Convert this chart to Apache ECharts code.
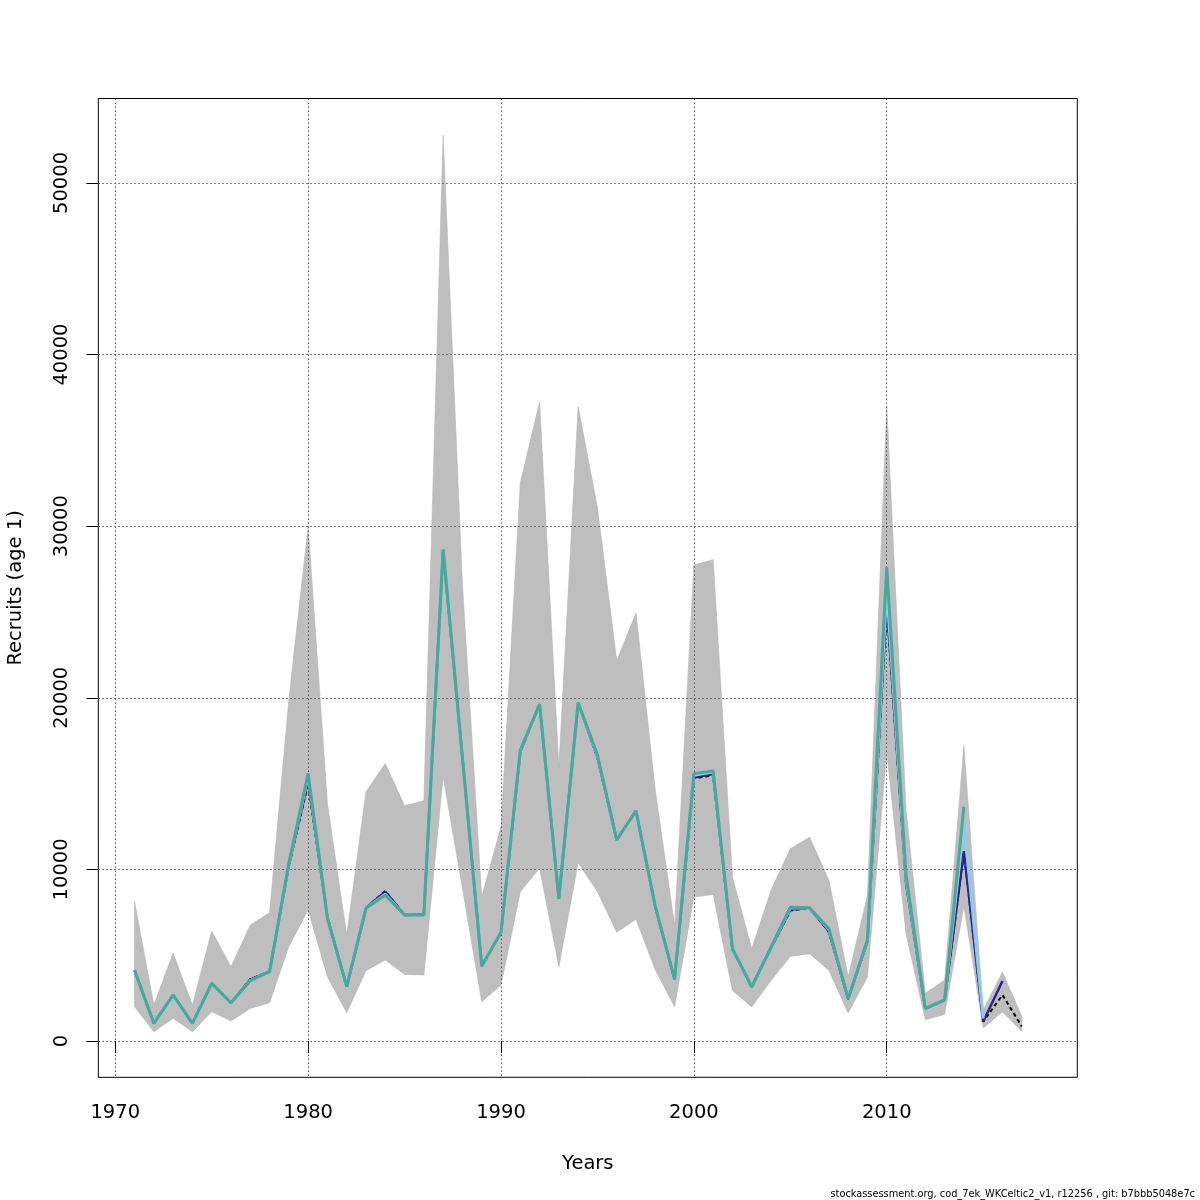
<!DOCTYPE html>
<html>
<head>
<meta charset="utf-8">
<script src="https://cdn.jsdelivr.net/npm/echarts@6/dist/echarts.min.js"></script>
<style>
html,body{margin:0;padding:0;background:#fff;}
#chart{width:1200px;height:1200px;}
</style>
</head>
<body>
<div id="chart"></div>
<script>
const years = [1971,1972,1973,1974,1975,1976,1977,1978,1979,1980,1981,1982,1983,1984,1985,1986,1987,1988,1989,1990,1991,1992,1993,1994,1995,1996,1997,1998,1999,2000,2001,2002,2003,2004,2005,2006,2007,2008,2009,2010,2011,2012,2013,2014,2015,2016,2017];

// base run (black dashed), 1971-2017
const recruitsBase = [4100,1030,2680,1030,3360,2230,3600,4050,10200,15000,7200,3170,7750,8740,7340,7380,28500,16500,4370,6330,16850,19600,8300,19700,16500,11750,13400,7830,3600,15300,15480,5350,3200,5400,7600,7750,6350,2450,5770,25300,9200,1880,2380,11000,1130,2680,850];
// upper / lower confidence bounds of base run
const upperCI = [8120,2100,5110,2100,6410,4330,6760,7480,19900,30000,13840,6170,14520,16170,13710,14000,52780,26600,8410,12480,32520,37240,15980,36970,31070,22160,24940,14600,6740,27730,28050,9550,5380,8780,11200,11880,9360,3730,8490,37000,13470,2780,3550,17200,1800,4020,1440];
const lowerCI = [2000,540,1320,540,1710,1170,1900,2230,5500,7630,3750,1650,4100,4720,3880,3850,15400,8900,2290,3260,8700,10060,4330,10390,8700,6330,7090,4140,2000,8390,8540,2950,1980,3530,4930,5090,4120,1630,3730,16840,6250,1240,1550,7850,760,1700,560];

// retrospective peels
const peel1 = [4100,1030,2680,1030,3360,2230,3580,4050,10250,15200,7200,3170,7750,8700,7340,7370,28550,16500,4370,6330,16850,19620,8300,19700,16550,11720,13400,7830,3600,15350,15550,5360,3180,5420,7650,7760,6400,2460,5800,25500,9250,1890,2380,11060,1120,3500];
const peel2 = [4120,1030,2680,1030,3360,2230,3520,4040,10300,15450,7160,3170,7740,8550,7340,7350,28600,16500,4370,6330,16900,19630,8310,19710,16600,11700,13410,7830,3590,15480,15680,5380,3150,5460,7750,7770,6500,2470,5860,26300,9450,1900,2380,12700,1300];
const peel3 = [4140,1030,2680,1030,3360,2230,3510,4040,10350,15590,7150,3170,7730,8500,7340,7340,28650,16510,4370,6330,16950,19630,8310,19710,16660,11710,13420,7830,3590,15580,15730,5380,3140,5470,7800,7770,6540,2470,5900,27600,9670,1900,2390,13650];

const xTicks = [1970,1980,1990,2000,2010];
const yTicks = [0,10000,20000,30000,40000,50000];

function pairs(vals){ return vals.map((v,i)=>[years[i], v]); }

const chart = echarts.init(document.getElementById('chart'), null, {renderer:'canvas'});
const FONT = 'DejaVu Sans';
const option = {
  animation: false,
  backgroundColor: '#ffffff',
  textStyle: {fontFamily: FONT},
  grid: {left: 98.3, top: 98.5, right: 122.7, bottom: 122.7, show: true, borderColor: '#000', borderWidth: 1,
         backgroundColor: 'transparent', containLabel: false, outerBoundsMode: 'none'},
  xAxis: {
    type: 'value', min: 1969.12, max: 2019.88, z: 3,
    name: 'Years', nameLocation: 'middle', nameGap: 77,
    nameTextStyle: {fontSize: 19.5, color: '#000', fontFamily: FONT},
    axisLine: {show: false},
    axisTick: {show: true, length: 12, inside: false, customValues: xTicks, lineStyle: {color: '#000', width: 1}},
    axisLabel: {customValues: xTicks, fontSize: 19.5, color: '#000', margin: 26, fontFamily: FONT, formatter: v => String(v)},
    splitLine: {show: true, lineStyle: {color: '#555', width: 1, type: [1.5, 2.5]}}
  },
  yAxis: {
    type: 'value', min: -2115, max: 54920, z: 3,
    name: 'Recruits (age 1)', nameLocation: 'middle', nameGap: 72, nameRotate: 90,
    nameTextStyle: {fontSize: 19.5, color: '#000', fontFamily: FONT},
    axisLine: {show: false},
    axisTick: {show: true, length: 12, inside: false, customValues: yTicks, lineStyle: {color: '#000', width: 1}},
    axisLabel: {customValues: yTicks, fontSize: 19.5, color: '#000', margin: 26, rotate: 90, fontFamily: FONT, formatter: v => String(v)},
    splitLine: {show: true, lineStyle: {color: '#555', width: 1, type: [1.5, 2.5]}}
  },
  series: [
    {type: 'custom', name: 'band', z: 1, silent: true,
     data: [[years[0], lowerCI[0]]],
     renderItem: function(params, api){
       const pts = [];
       for (let i = 0; i < years.length; i++) pts.push(api.coord([years[i], upperCI[i]]));
       for (let i = years.length - 1; i >= 0; i--) pts.push(api.coord([years[i], lowerCI[i]]));
       return {type: 'polygon', shape: {points: pts}, style: {fill: '#bebebe', stroke: '#b4b4b4', lineWidth: 0.6}};
     }},
    {type: 'line', name: 'base', data: pairs(recruitsBase), symbol: 'none', z: 5,
     lineStyle: {color: '#000000', width: 2, type: [4, 3]}},
    {type: 'line', name: 'peel1', data: pairs(peel1), symbol: 'none', z: 6,
     lineStyle: {color: '#332288', width: 2.5}},
    {type: 'line', name: 'peel2', data: pairs(peel2), symbol: 'none', z: 7,
     lineStyle: {color: '#88CCEE', width: 3}},
    {type: 'line', name: 'peel3', data: pairs(peel3), symbol: 'none', z: 8,
     lineStyle: {color: '#44AA99', width: 3}}
  ],
  graphic: [
    {type: 'text', right: 5, top: 1189, z: 10,
     style: {text: 'stockassessment.org, cod_7ek_WKCeltic2_v1, r12256 , git: b7bbb5048e7c', font: '9.8px "DejaVu Sans"', fill: '#000'}}
  ]
};
chart.setOption(option);
</script>
</body>
</html>
